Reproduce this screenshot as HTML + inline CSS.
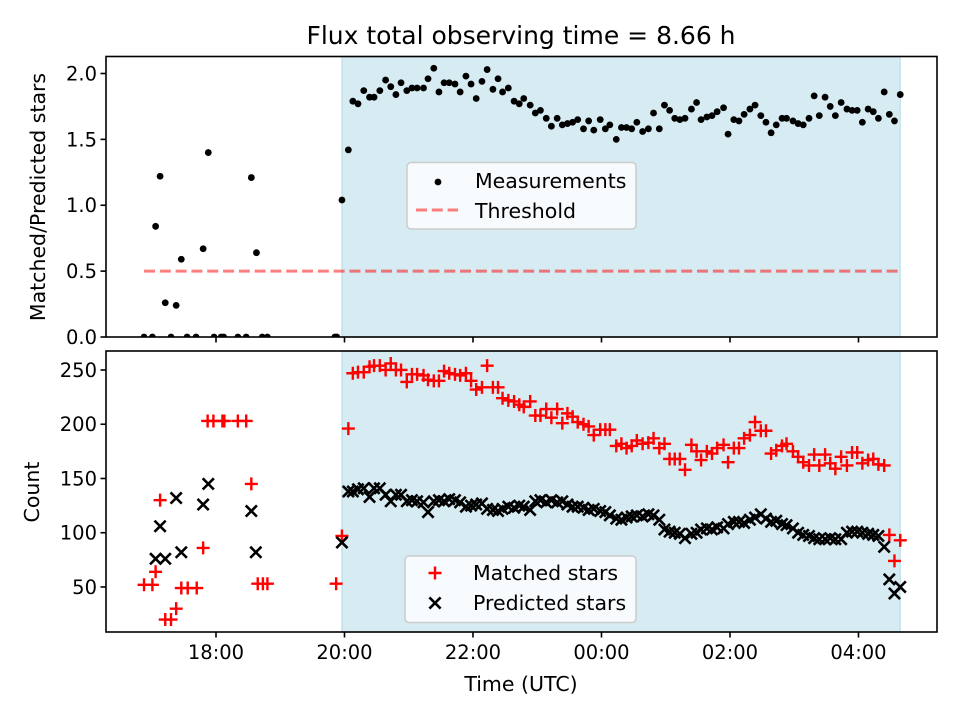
<!DOCTYPE html>
<html><head><meta charset="utf-8"><style>
body{margin:0;background:#fff}
svg{display:block;font-family:"DejaVu Sans","Liberation Sans",sans-serif}
</style></head><body>
<svg id="fig" width="960" height="720" viewBox="0 0 960 720"></svg>
<script>
// ---- data ----
const mainTimes=[20.06,20.13,20.21,20.30,20.39,20.46,20.55,20.64,20.72,20.80,20.88,20.97,21.05,21.13,21.23,21.30,21.39,21.47,21.55,21.63,21.72,21.80,21.89,21.97,22.05,22.14,22.22,22.31,22.39,22.46,22.55,22.64,22.72,22.79,22.89,22.97,23.05,23.14,23.22,23.31,23.39,23.47,23.55,23.63,23.72,23.80,23.88,23.98,24.06,24.13,24.23,24.31,24.39,24.47,24.55,24.64,24.73,24.81,24.90,24.98,25.06,25.14,25.22,25.30,25.40,25.48,25.55,25.64,25.72,25.80,25.90,25.97,26.06,26.14,26.22,26.31,26.39,26.48,26.56,26.64,26.72,26.81,26.88,26.98,27.06,27.14,27.23,27.31,27.39,27.48,27.56,27.64,27.73,27.82,27.90,27.98,28.06,28.15,28.23,28.31,28.40,28.48,28.56,28.65];
const mainRatio=[1.42,1.79,1.77,1.87,1.82,1.82,1.87,1.95,1.90,1.84,1.93,1.87,1.89,1.89,1.89,1.96,2.04,1.86,1.93,1.93,1.92,1.86,1.98,1.92,1.81,1.94,2.03,1.88,1.96,1.86,1.89,1.79,1.77,1.81,1.76,1.70,1.72,1.66,1.60,1.66,1.61,1.62,1.63,1.65,1.58,1.64,1.57,1.65,1.58,1.61,1.50,1.59,1.59,1.58,1.63,1.56,1.58,1.70,1.58,1.76,1.72,1.66,1.65,1.66,1.73,1.78,1.65,1.67,1.68,1.71,1.74,1.54,1.65,1.64,1.69,1.73,1.76,1.68,1.63,1.55,1.61,1.66,1.66,1.64,1.62,1.61,1.66,1.83,1.68,1.82,1.75,1.68,1.78,1.73,1.72,1.72,1.63,1.73,1.71,1.66,1.86,1.69,1.64,1.84];
const mainMatched=[196,247,248,248,253,254,254,250,256,250,250,239,246,246,245,241,240,240,249,247,246,245,247,240,232,234,254,234,234,224,222,221,218,216,221,208,208,214,206,214,201,210,207,202,200,198,190,195,195,195,180,182,178,180,185,182,183,187,178,182,168,168,168,158,181,175,167,175,173,178,181,165,178,178,187,190,202,194,194,173,176,180,182,175,170,165,162,172,162,172,164,159,170,162,174,174,164,167,168,163,162,98,74,93];
const mainPredicted=[138,138,140,141,133,141,141,135,129,135,135,129,130,129,128,119,129,130,129,131,130,128,124,125,126,127,122,121,120,122,124,123,125,124,121,129,130,128,130,128,129,126,124,124,123,121,122,120,119,116,113,112,114,115,116,115,117,116,112,103,101,100,99,95,99,100,103,104,103,105,104,108,110,110,109,112,114,117,113,110,111,108,107,104,100,98,97,95,94,94,95,94,94,100,101,101,100,99,98,97,87,57,44,50];
const earlyRatioTimes=[17.06,17.13,17.21,17.38,17.46,17.80,17.88,18.55,18.63,19.96,16.88,17.01,17.30,17.55,17.69,17.97,18.08,18.12,18.34,18.47,18.72,18.80,19.85,19.88];
const earlyRatio=[0.84,1.22,0.26,0.24,0.59,0.67,1.40,1.21,0.64,1.04,0,0,0,0,0,0,0,0,0,0,0,0,0,0];
const earlyMatchedTimes=[17.87,17.96,18.10,18.13,18.34,18.47,18.55,17.13,17.80,17.06,16.88,17.01,17.46,17.56,17.70,17.38,17.21,17.30,18.65,18.73,18.80,19.87,19.96];
const earlyMatched=[203,203,203,203,203,203,145,130,86,64,52,52,49,49,49,30,20,20,53,53,53,53,97];
const earlyPredTimes=[17.38,17.88,17.80,17.13,17.06,17.21,17.46,18.55,18.62,19.96];
const earlyPred=[132,145,126,106,76,76,82,120,82,91];
const threshold=[0.5];
const thresholdRange=[16.88,28.65];
const shadeRange=[19.96,28.65];
const xTickHours=[18,20,22,24,26,28];
const xTickLabels=["18:00","20:00","22:00","00:00","02:00","04:00"];
const topTicks=[0,0.5,1.0,1.5,2.0];
const topTickLabels=["0.0","0.5","1.0","1.5","2.0"];
const botTicks=[50,100,150,200,250];

// ---- layout ----
const NS="http://www.w3.org/2000/svg";
const svg=document.getElementById('fig');
const L=106,R=937;
const TOP={y0:56.5,y1:337,min:0,max:2.129};
const BOT={y0:351,y1:632,min:8.5,max:267.5};
const XMIN=16.288,XMAX=29.222;
const xs=h=>L+(h-XMIN)/(XMAX-XMIN)*(R-L);
const ys=(ax,v)=>ax.y1-(v-ax.min)/(ax.max-ax.min)*(ax.y1-ax.y0);
function el(tag,attrs,parent){const e=document.createElementNS(NS,tag);for(const k in attrs)e.setAttribute(k,attrs[k]);(parent||svg).appendChild(e);return e;}
const defs=el('defs',{});
const c1=el('clipPath',{id:'clipTop'},defs);el('rect',{x:L,y:TOP.y0,width:R-L,height:TOP.y1-TOP.y0},c1);
const c2=el('clipPath',{id:'clipBot'},defs);el('rect',{x:L,y:BOT.y0,width:R-L,height:BOT.y1-BOT.y0},c2);

// title
const title=el('text',{x:521,y:44,'font-size':25,'text-anchor':'middle',fill:'#000'});
title.textContent='Flux total observing time = 8.66 h';



function axes(ax,name,clip){
  const g=el('g',{});
  
  
  const sh=el('rect',{x:xs(shadeRange[0]),y:ax.y0,width:xs(shadeRange[1])-xs(shadeRange[0]),height:ax.y1-ax.y0,fill:'#add8e6','fill-opacity':0.5,stroke:'#add8e6','stroke-opacity':0.6,'stroke-width':1.5},g);
  
  
  const plot=el('g',{'clip-path':'url(#'+clip+')'},g);
  return {g,plot};
}
function frame(ax,g,yt,ylab,showX){
  el('rect',{x:L,y:ax.y0,width:R-L,height:ax.y1-ax.y0,fill:'none',stroke:'#000','stroke-width':1.6},g);
  yt.forEach((v,i)=>{const y=ys(ax,v);
    el('line',{x1:L,x2:L-5.5,y1:y,y2:y,stroke:'#000','stroke-width':1.6},g);
    const t=el('text',{x:L-9,y:y+7,'font-size':19.5,'text-anchor':'end'},g);t.textContent=ylab[i];
    
    
  });
  xTickHours.forEach((h,i)=>{const x=xs(h);
    el('line',{x1:x,x2:x,y1:ax.y1,y2:ax.y1+5.5,stroke:'#000','stroke-width':1.6},g);
    if(showX){const t=el('text',{x:x,y:ax.y1+27,'font-size':19.5,'text-anchor':'middle'},g);t.textContent=xTickLabels[i];
      
      }
  });
}

// top panel
const A=axes(TOP,'ratio-panel','clipTop');
const th=el('line',{x1:xs(thresholdRange[0]),x2:xs(thresholdRange[1]),y1:ys(TOP,threshold[0]),y2:ys(TOP,threshold[0]),stroke:'#ff0000','stroke-opacity':0.5,'stroke-width':3,'stroke-dasharray':'11,4.8'},A.plot);


function dot(h,v){const c=el('circle',{cx:xs(h),cy:ys(TOP,v),r:3.4,fill:'#000'},A.plot);
  
  }
earlyRatioTimes.forEach((h,i)=>dot(h,earlyRatio[i]));
mainTimes.forEach((h,i)=>dot(h,mainRatio[i]));
frame(TOP,A.g,topTicks,topTickLabels,false);

// bottom panel
const B=axes(BOT,'count-panel','clipBot');
function plus(h,v){const x=xs(h),y=ys(BOT,v),s=6.5;
  const p=el('path',{d:`M${x-s},${y}H${x+s}M${x},${y-s}V${y+s}`,stroke:'#ff0000','stroke-width':2.4,fill:'none'},B.plot);
  
  }
function cross(h,v){const x=xs(h),y=ys(BOT,v),s=5.6;
  const p=el('path',{d:`M${x-s},${y-s}L${x+s},${y+s}M${x-s},${y+s}L${x+s},${y-s}`,stroke:'#000','stroke-width':2.6,fill:'none'},B.plot);
  
  }
earlyMatchedTimes.forEach((h,i)=>plus(h,earlyMatched[i]));
mainTimes.forEach((h,i)=>plus(h,mainMatched[i]));
earlyPredTimes.forEach((h,i)=>cross(h,earlyPred[i]));
mainTimes.forEach((h,i)=>cross(h,mainPredicted[i]));
frame(BOT,B.g,botTicks,botTicks.map(String),true);

// axis labels
function label(txt,x,y,rot,name){const t=el('text',{x:x,y:y,'font-size':20.5,'text-anchor':'middle',transform:rot?`rotate(-90 ${x} ${y})`:''});t.textContent=txt;
  
  }
label('Matched/Predicted stars',45,197,true,'top-y-axis-title');
label('Count',39,492,true,'bottom-y-axis-title');
label('Time (UTC)',521,691,false,'x-axis-title');

// legends
function legendBox(x,y,w,h,name){const g=el('g',{});
  
  
  el('rect',{x:x,y:y,width:w,height:h,rx:4,fill:'#fff','fill-opacity':0.8,stroke:'#cccccc','stroke-width':1.5},g);return g;}
const lg1=legendBox(407,162.5,229,66.5,'ratio-legend');
el('circle',{cx:438,cy:182,r:3.4,fill:'#000'},lg1);
let t=el('text',{x:475,y:188,'font-size':20.5},lg1);t.textContent='Measurements';
el('line',{x1:416,x2:458,y1:210,y2:210,stroke:'#ff0000','stroke-opacity':0.5,'stroke-width':3,'stroke-dasharray':'11,4.8'},lg1);
t=el('text',{x:475,y:218,'font-size':20.5},lg1);t.textContent='Threshold';
const lg2=legendBox(405,556,231,66.5,'count-legend');
el('path',{d:'M428.5,573H441.5M435,566.5V579.5',stroke:'#ff0000','stroke-width':2.4},lg2);
t=el('text',{x:473,y:580,'font-size':20.5},lg2);t.textContent='Matched stars';
el('path',{d:'M429.4,597.4L440.6,608.6M429.4,608.6L440.6,597.4',stroke:'#000','stroke-width':2.6},lg2);
t=el('text',{x:473,y:610,'font-size':20.5},lg2);t.textContent='Predicted stars';
</script>
</body></html>
